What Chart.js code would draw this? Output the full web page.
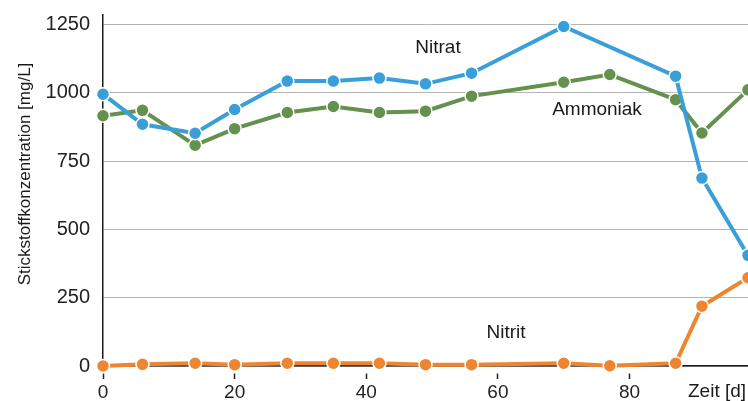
<!DOCTYPE html>
<html><head><meta charset="utf-8">
<script src="https://cdn.jsdelivr.net/npm/chart.js@4/dist/chart.umd.min.js"></script>
<style>html,body{margin:0;padding:0;background:#fff}#wrap{width:748px;height:401px;position:relative}</style>
</head><body><div id="wrap"><canvas id="c" width="748" height="401"></canvas></div>
<script>
// ---- data ----
const days = [0, 6, 14, 20, 28, 35, 42, 49, 56, 70, 77, 87, 91, 98];
const nitrat = [995, 885, 852, 939, 1043, 1043, 1054, 1033, 1072, 1243, null, 1061, 688, 405];
const ammoniak = [916, 936, 808, 869, 928, 950, 928, 933, 988, 1039, 1067, 975, 853, 1011];
const nitrit = [0, 6, 10, 5, 10, 10, 10, 5, 5, 10, 1, 10, 219, 323];
const yTickValues = [0, 250, 500, 750, 1000, 1250];
const xTickValues = [0, 20, 40, 60, 80];
const seriesNames = ['Nitrat', 'Ammoniak', 'Nitrit'];
const yTitle = 'Stickstoffkonzentration [mg/L]';
const xTitle = 'Zeit [d]';

const FONT = '"Liberation Sans", Arial, Helvetica, sans-serif';
const colors = ['#3a9fd9', '#65914f', '#ee8631'];

function toPoints(vals) {
  const out = [];
  days.forEach((d, i) => { if (vals[i] !== null) out.push({x: d, y: vals[i]}); });
  return out;
}

function ds(label, vals, color) {
  return {
    label, data: toPoints(vals),
    borderColor: color, backgroundColor: color,
    borderWidth: 4, pointRadius: 6.5, pointHoverRadius: 6.5,
    pointBorderColor: '#ffffff', pointBorderWidth: 1.5,
    pointBackgroundColor: color, tension: 0, clip: false
  };
}

const labelPos = [
  {x: 438, y: 48},
  {x: 597, y: 110},
  {x: 506, y: 333}
];

const textPlugin = {
  id: 'texts',
  afterDraw(chart) {
    const ctx = chart.ctx;
    ctx.save();
    ctx.fillStyle = '#1a1a1a';
    ctx.font = '19px ' + FONT;
    ctx.textAlign = 'center';
    ctx.textBaseline = 'middle';
    seriesNames.forEach((n, i) => ctx.fillText(n, labelPos[i].x, labelPos[i].y));
    // y title
    ctx.save();
    ctx.translate(25, 174);
    ctx.rotate(-Math.PI / 2);
    ctx.font = '17px ' + FONT;
    ctx.fillText(yTitle, 0, 0);
    ctx.restore();
    // x title
    ctx.font = '19px ' + FONT;
    ctx.textAlign = 'left';
    ctx.textBaseline = 'alphabetic';
    ctx.fillText(xTitle, 688, 397);
    ctx.restore();
  }
};

function zeroPad(s) { s.paddingTop = 0; s.paddingBottom = 0; s.paddingLeft = 0; s.paddingRight = 0; }

new Chart(document.getElementById('c'), {
  type: 'line',
  data: {
    datasets: [
      ds(seriesNames[0], nitrat, colors[0]),
      ds(seriesNames[1], ammoniak, colors[1]),
      ds(seriesNames[2], nitrit, colors[2])
    ]
  },
  options: {
    responsive: false,
    animation: false,
    devicePixelRatio: 1,
    layout: {autoPadding: false, padding: {top: 15, left: 0, right: 0, bottom: 0}},
    plugins: {legend: {display: false}, tooltip: {enabled: false}},
    scales: {
      x: {
        type: 'linear', min: 0, max: 98,
        afterBuildTicks(s) { s.ticks = xTickValues.map(v => ({value: v})); },
        afterFit(s) { s.height = 35; zeroPad(s); },
        grid: {
          display: true, drawOnChartArea: false, drawTicks: true,
          tickLength: 13, tickColor: '#222', tickWidth: 1.5,
          tickBorderDash: [6, 7], tickBorderDashOffset: 6
        },
        border: {display: true, color: '#1a1a1a', width: 1.5},
        ticks: {color: '#222', font: {family: FONT, size: 19}, padding: 2, maxRotation: 0,
                callback: v => String(v)}
      },
      y: {
        min: 0, max: 1285,
        afterBuildTicks(s) { s.ticks = yTickValues.map(v => ({value: v})); },
        afterFit(s) { s.width = 103; zeroPad(s); },
        grid: {color: '#b3b3b3', lineWidth: 1, drawTicks: false},
        border: {display: true, color: '#1a1a1a', width: 1.5},
        ticks: {color: '#222', font: {family: FONT, size: 20}, padding: 13,
                callback: v => String(v)}
      }
    }
  },
  plugins: [textPlugin]
});
</script>
</body></html>
